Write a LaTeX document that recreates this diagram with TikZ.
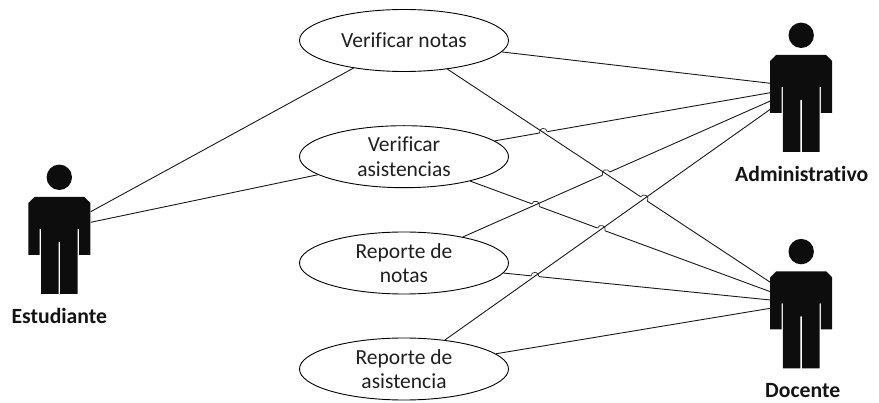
\documentclass[tikz,border=0pt]{standalone}
\usepackage{fontspec}
\setmainfont[Ligatures=NoCommon]{Carlito}
\usetikzlibrary{shapes.geometric,decorations.markings}

\tikzset{
  usecase/.style={draw,ellipse,line width=0.9pt,minimum width=209pt,minimum height=62pt,inner sep=0pt,align=center,
    font=\fontsize{21.5}{26.5}\selectfont,text=black!88},
  actorname/.style={font=\fontsize{21.7}{26}\selectfont\bfseries,text=black!92},
  link/.style={line width=0.9pt,black!90},
  jump/.style={postaction={decorate,decoration={markings,mark=at position #1 with {
    \draw[white,line width=1.6pt] (-4pt,0pt) -- (4pt,0pt);
    \draw[line width=0.7pt,black!85] (-4pt,0pt) arc[start angle=180,end angle=0,radius=4pt];}}}},
  actor/.pic={
    \fill[black!95] (0,-19.7) circle (12.7pt);
    \fill[black!95] (-25,0) -- (25,0) -- (31,6) -- (31,58) -- (19.7,58) -- (19.7,32) -- (18.3,32) -- (18.3,97)
      -- (0.8,97) -- (0.8,45) -- (-0.8,45) -- (-0.8,97) -- (-18.3,97) -- (-18.3,32) -- (-19.7,32) -- (-19.7,58)
      -- (-31,58) -- (-31,6) -- cycle;
  }
}

\begin{document}
\begin{tikzpicture}[x=1pt,y=-1pt]
\useasboundingbox (0,0) rectangle (879,403);

% Use cases
\node[usecase] (vnotas) at (404,40.5) {Verificar notas};
\node[usecase] (vasist) at (404,156.7) {\raisebox{-2pt}{Verificar}\\asistencias};
\node[usecase] (rnotas) at (404,263) {\raisebox{-2pt}{Reporte de}\\notas};
\node[usecase] (rasist) at (404,369) {\raisebox{-2pt}{Reporte de}\\asistencia};

% Actors
\pic at (59.3,197) {actor};
\pic at (801.2,55) {actor};
\pic at (801.2,271.3) {actor};
\node[actorname] (estudiante) at (59.3,316) {Estudiante};
\node[actorname] (administrativo) at (801.7,174) {Administrativo};
\node[actorname] (docente) at (802.7,391) {Docente};

% Where the lines reach the actors
\coordinate (est1) at (90.7,211.7);
\coordinate (est2) at (90.7,222.3);
\coordinate (adm1) at (770.3,83.3);
\coordinate (adm2) at (770.3,92.7);
\coordinate (adm3) at (770.3,101);
\coordinate (adm4) at (770.3,109.3);
\coordinate (doc1) at (770.3,282.3);
\coordinate (doc2) at (770.3,291.7);
\coordinate (doc3) at (770.3,300);
\coordinate (doc4) at (770.3,308.3);

% Lines
\draw[link] (est1) -- (vnotas);
\draw[link] (est2) -- (vasist);
\draw[link] (vnotas) -- (adm1);
\draw[link] (rasist) -- (doc4);
\draw[link,jump=0.1767] (vasist) -- (adm2);
\draw[link,jump=0.2177,jump=0.4368] (vasist) -- (doc2);
\draw[link,jump=0.118] (rnotas) -- (doc3);
\draw[link,jump=0.466] (rnotas) -- (adm3);
\draw[link,jump=0.609] (vnotas) -- (doc1);
\draw[link] (rasist) -- (adm4);

\end{tikzpicture}
\end{document}
